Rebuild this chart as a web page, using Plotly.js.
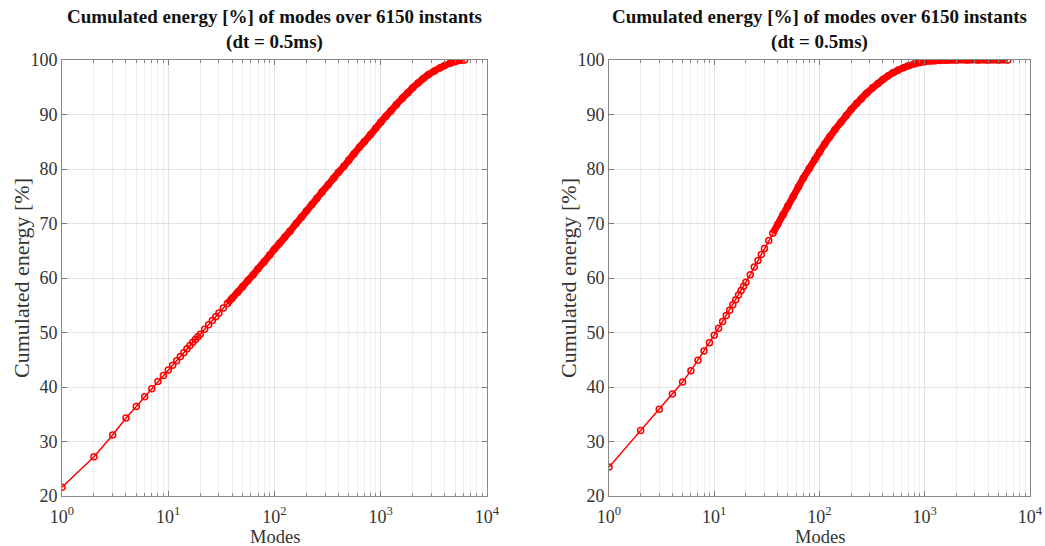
<!DOCTYPE html>
<html>
<head>
<meta charset="utf-8">
<script src="https://cdn.plot.ly/plotly-3.0.1.min.js"></script>
<style>html,body{margin:0;padding:0;background:#fff;}#chart{width:1045px;height:546px;}</style>
</head>
<body>
<div id="chart"></div>
<script>
// ---- Data ----
const modesLeft = [1,2,3,4,5,6,7,8,9,10,11,12,13,14,15,16,17,18,19,20,22,24,26,28,30,33,36,40,45,50,56,63,70,80,90,100,112,125,140,160,180,200,225,250,280,320,360,400,450,500,560,630,700,800,900,1000,1120,1250,1400,1600,1800,2000,2250,2500,2800,3200,3600,4000,4500,5000,5500,6150];
const energyLeft = [21.6,27.2,31.2,34.3,36.4,38.2,39.7,41.0,42.1,43.1,44.0,44.8,45.6,46.3,47.0,47.6,48.2,48.7,49.2,49.7,50.6,51.4,52.2,52.9,53.6,54.5,55.3,56.3,57.4,58.4,59.5,60.6,61.7,63.0,64.2,65.3,66.4,67.5,68.6,70.0,71.2,72.3,73.5,74.6,75.8,77.1,78.3,79.4,80.5,81.6,82.8,84.0,85.0,86.3,87.5,88.6,89.7,90.7,91.8,93.0,94.0,94.9,95.8,96.55,97.3,98.0,98.55,99.0,99.4,99.7,99.9,100];

const modesRight = [1,2,3,4,5,6,7,8,9,10,11,12,13,14,15,16,17,18,19,20,22,24,26,28,30,33,36,40,45,50,56,63,70,80,90,100,112,125,140,160,180,200,225,250,280,320,360,400,450,500,560,630,700,800,900,1000,1120,1250,1400,1600,2000,2500,3200,4000,5000,6150];
const energyRight = [25.3,32.0,35.9,38.7,40.9,43.0,44.9,46.6,48.1,49.5,50.8,52.0,53.1,54.1,55.1,56.0,56.9,57.7,58.5,59.2,60.6,62.0,63.2,64.3,65.4,66.9,68.2,69.8,71.6,73.2,74.9,76.7,78.3,80.1,81.7,83.1,84.6,85.9,87.2,88.6,89.8,90.9,92.0,92.9,93.9,94.9,95.7,96.4,97.1,97.65,98.15,98.6,98.95,99.3,99.52,99.68,99.8,99.87,99.92,99.95,99.98,100,100,100,100,100];

const xTickVals = [1,10,100,1000,10000];
const xTickText = ['10<sup>0</sup>','10<sup>1</sup>','10<sup>2</sup>','10<sup>3</sup>','10<sup>4</sup>'];
const xMinorVals = [2,3,4,5,6,7,8,9,20,30,40,50,60,70,80,90,200,300,400,500,600,700,800,900,2000,3000,4000,5000,6000,7000,8000,9000];
const titleText = '<b>Cumulated energy [%] of modes over 6150 instants</b><br><b>(dt = 0.5ms)</b>';
const yTitle = 'Cumulated energy [%]';
const xTitle = 'Modes';
// ------------------------------------------------

const RED = '#ff0000';
const FONT = 'Liberation Serif, Times New Roman, serif';
const TXT = '#333333';
const denseFrom = 36;

function band(xs, ys, xa, ya) {
  const bx = [], by = [];
  xs.forEach((m, i) => { if (m >= denseFrom) { bx.push(m); by.push(ys[i]); } });
  return {x: bx, y: by, xaxis: xa, yaxis: ya, type: 'scatter', mode: 'lines',
          line: {color: RED, width: 7, shape: 'spline', smoothing: 0.6}, hoverinfo: 'skip', showlegend: false};
}
function main(xs, ys, xa, ya) {
  return {x: xs, y: ys, xaxis: xa, yaxis: ya, type: 'scatter', mode: 'lines+markers',
          line: {color: RED, width: 1.5},
          marker: {symbol: 'circle-open', size: 6, color: RED, line: {color: RED, width: 1.5}},
          showlegend: false};
}

const data = [
  band(modesLeft, energyLeft, 'x', 'y'),
  main(modesLeft, energyLeft, 'x', 'y'),
  band(modesRight, energyRight, 'x2', 'y2'),
  main(modesRight, energyRight, 'x2', 'y2')
];

const H = 546, W = 1045;
const yDom = [1 - 496 / H, 1 - 60 / H];
const L1 = [62, 487], L2 = [609, 1030];

function xaxis(dom, anchor) {
  return {
    domain: [dom[0] / W, dom[1] / W], anchor: anchor, type: 'log', range: [0, 4],
    tickmode: 'array', tickvals: xTickVals, ticktext: xTickText,
    ticks: 'inside', ticklen: 5, tickcolor: '#777', tickwidth: 1, ticklabelstandoff: 4,
    showline: true, linecolor: '#888', linewidth: 1, mirror: 'ticks',
    showgrid: true, gridcolor: '#e2e2e2', gridwidth: 1, zeroline: false,
    minor: {tickmode: 'array', tickvals: xMinorVals, ticks: 'inside', ticklen: 3,
            tickcolor: '#888', showgrid: true, gridcolor: '#efefef', gridwidth: 1},
    tickfont: {family: FONT, size: 18, color: TXT},
    fixedrange: true
  };
}
function yaxis(anchor) {
  return {
    domain: yDom, anchor: anchor, range: [20, 100], dtick: 10,
    ticks: 'inside', ticklen: 5, tickcolor: '#777', tickwidth: 1,
    showline: true, linecolor: '#888', linewidth: 1, mirror: 'ticks',
    showgrid: true, gridcolor: '#e2e2e2', gridwidth: 1, zeroline: false,
    tickfont: {family: FONT, size: 18, color: TXT},
    fixedrange: true
  };
}

function ann(text, xpx, ypx, opts) {
  return Object.assign({text: text, xref: 'paper', yref: 'paper', x: xpx / W, y: 1 - ypx / H,
    xanchor: 'center', yanchor: 'middle', showarrow: false, align: 'center'}, opts);
}

const annotations = [];
[L1, L2].forEach(d => {
  const cx = (d[0] + d[1]) / 2;
  annotations.push(ann(titleText, cx, 4, {yanchor: 'top', font: {family: FONT, size: 19, color: '#111'}}));
  annotations.push(ann(xTitle, cx, 537, {font: {family: FONT, size: 18.5, color: TXT}}));
  annotations.push(ann(yTitle, d[0] - 41, 278, {textangle: -90, font: {family: FONT, size: 22, color: TXT}}));
});

const layout = {
  width: W, height: H,
  margin: {l: 0, r: 0, t: 0, b: 0},
  paper_bgcolor: '#fff', plot_bgcolor: '#fff',
  showlegend: false,
  xaxis: xaxis(L1, 'y'),
  yaxis: yaxis('x'),
  xaxis2: xaxis(L2, 'y2'),
  yaxis2: yaxis('x2'),
  annotations: annotations
};

Plotly.newPlot('chart', data, layout, {displayModeBar: false, staticPlot: true});
</script>
</body>
</html>
